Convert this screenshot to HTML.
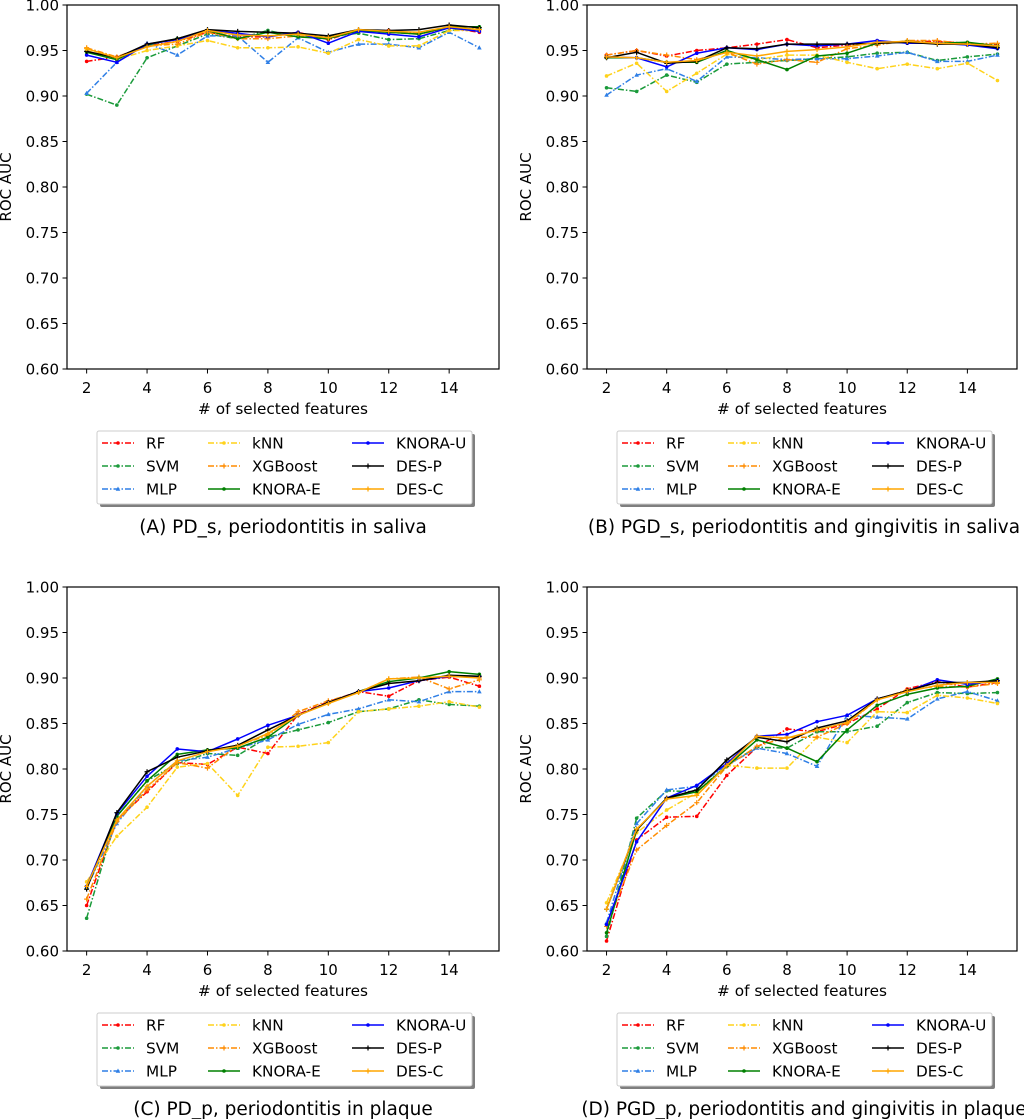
<!DOCTYPE html>
<html><head><meta charset="utf-8"><style>
html,body{margin:0;padding:0;background:#fff;}
svg{display:block;font-family:"DejaVu Sans","Liberation Sans",sans-serif;}
</style></head><body>
<svg id="chart" width="1024" height="1119" viewBox="0 0 1024 1119"></svg>
<script>
const features = [2,3,4,5,6,7,8,9,10,11,12,13,14,15];
const yTicks = [0.60,0.65,0.70,0.75,0.80,0.85,0.90,0.95,1.00];
const xTicks = [2,4,6,8,10,12,14];
const seriesNames = ["RF","SVM","MLP","kNN","XGBoost","KNORA-E","KNORA-U","DES-P","DES-C"];
const captions = ["(A) PD_s, periodontitis in saliva","(B) PGD_s, periodontitis and gingivitis in saliva","(C) PD_p, periodontitis in plaque","(D) PGD_p, periodontitis and gingivitis in plaque"];

const panelA_RF   = [0.938,0.943,0.955,0.960,0.970,0.965,0.965,0.970,0.962,0.972,0.972,0.968,0.975,0.970];
const panelA_SVM  = [0.902,0.890,0.942,0.955,0.968,0.963,0.972,0.965,0.965,0.969,0.962,0.963,0.972,0.975];
const panelA_MLP  = [0.903,0.937,0.958,0.945,0.966,0.966,0.937,0.964,0.948,0.957,0.957,0.953,0.970,0.953];
const panelA_kNN  = [0.950,0.940,0.950,0.955,0.961,0.953,0.953,0.954,0.947,0.962,0.955,0.955,0.972,0.972];
const panelA_XGB  = [0.953,0.943,0.955,0.957,0.970,0.963,0.963,0.966,0.963,0.972,0.970,0.968,0.975,0.973];
const panelA_KE   = [0.948,0.940,0.956,0.963,0.972,0.963,0.970,0.965,0.963,0.972,0.970,0.968,0.976,0.976];
const panelA_KU   = [0.945,0.937,0.957,0.962,0.972,0.969,0.965,0.970,0.958,0.971,0.968,0.965,0.975,0.971];
const panelA_DESP = [0.949,0.942,0.957,0.963,0.973,0.971,0.970,0.969,0.966,0.973,0.972,0.973,0.978,0.975];
const panelA_DESC = [0.952,0.942,0.954,0.960,0.972,0.967,0.966,0.968,0.964,0.973,0.971,0.970,0.976,0.973];

const panelB_RF   = [0.945,0.950,0.944,0.950,0.953,0.957,0.962,0.953,0.956,0.958,0.960,0.960,0.958,0.956];
const panelB_SVM  = [0.909,0.905,0.923,0.915,0.935,0.937,0.939,0.941,0.943,0.947,0.948,0.939,0.943,0.946];
const panelB_MLP  = [0.901,0.923,0.930,0.916,0.943,0.942,0.940,0.941,0.941,0.944,0.948,0.938,0.938,0.945];
const panelB_kNN  = [0.922,0.936,0.905,0.925,0.946,0.940,0.945,0.945,0.937,0.930,0.935,0.930,0.936,0.917];
const panelB_XGB  = [0.945,0.950,0.945,0.940,0.948,0.935,0.940,0.937,0.952,0.956,0.961,0.961,0.957,0.958];
const panelB_KE   = [0.942,0.942,0.937,0.937,0.950,0.940,0.929,0.944,0.947,0.958,0.960,0.958,0.959,0.955];
const panelB_KU   = [0.943,0.942,0.932,0.947,0.953,0.951,0.957,0.955,0.957,0.961,0.958,0.958,0.956,0.952];
const panelB_DESP = [0.942,0.948,0.936,0.938,0.953,0.952,0.957,0.957,0.957,0.958,0.959,0.957,0.957,0.953];
const panelB_DESC = [0.943,0.942,0.937,0.939,0.948,0.944,0.949,0.951,0.954,0.959,0.960,0.958,0.957,0.955];

const panelC_RF   = [0.650,0.744,0.775,0.807,0.805,0.824,0.817,0.860,0.874,0.885,0.880,0.897,0.901,0.891];
const panelC_SVM  = [0.636,0.748,0.787,0.806,0.817,0.815,0.835,0.843,0.851,0.863,0.866,0.876,0.871,0.869];
const panelC_MLP  = [0.669,0.740,0.781,0.809,0.813,0.823,0.832,0.849,0.860,0.866,0.876,0.874,0.885,0.885];
const panelC_kNN  = [0.676,0.726,0.758,0.802,0.806,0.771,0.824,0.825,0.829,0.863,0.866,0.869,0.874,0.868];
const panelC_XGB  = [0.657,0.742,0.777,0.807,0.801,0.826,0.837,0.863,0.875,0.884,0.899,0.901,0.888,0.898];
const panelC_KE   = [0.669,0.748,0.787,0.816,0.821,0.823,0.835,0.859,0.873,0.885,0.896,0.900,0.907,0.904];
const panelC_KU   = [0.671,0.751,0.792,0.822,0.819,0.833,0.848,0.859,0.873,0.885,0.889,0.897,0.902,0.901];
const panelC_DESP = [0.668,0.752,0.797,0.813,0.820,0.826,0.843,0.859,0.873,0.885,0.894,0.897,0.903,0.902];
const panelC_DESC = [0.671,0.744,0.781,0.809,0.819,0.825,0.839,0.859,0.872,0.884,0.899,0.900,0.902,0.900];

const panelD_RF   = [0.611,0.722,0.747,0.748,0.793,0.824,0.844,0.841,0.850,0.866,0.888,0.896,0.890,0.895];
const panelD_SVM  = [0.616,0.746,0.776,0.775,0.804,0.824,0.823,0.841,0.841,0.847,0.873,0.884,0.883,0.884];
const panelD_MLP  = [0.631,0.740,0.777,0.781,0.804,0.823,0.817,0.803,0.859,0.857,0.855,0.877,0.885,0.875];
const panelD_kNN  = [0.653,0.730,0.755,0.774,0.804,0.801,0.801,0.835,0.829,0.863,0.862,0.881,0.878,0.872];
const panelD_XGB  = [0.627,0.711,0.738,0.763,0.803,0.825,0.835,0.835,0.850,0.876,0.887,0.891,0.890,0.894];
const panelD_KE   = [0.620,0.733,0.768,0.775,0.803,0.832,0.823,0.808,0.843,0.870,0.882,0.889,0.891,0.899];
const panelD_KU   = [0.629,0.720,0.768,0.782,0.806,0.836,0.838,0.852,0.859,0.877,0.885,0.898,0.893,0.897];
const panelD_DESP = [0.646,0.733,0.768,0.777,0.810,0.835,0.830,0.845,0.853,0.877,0.886,0.895,0.895,0.897];
const panelD_DESC = [0.646,0.734,0.767,0.771,0.804,0.836,0.834,0.843,0.851,0.876,0.885,0.892,0.895,0.895];

const panelData = [
  [panelA_RF,panelA_SVM,panelA_MLP,panelA_kNN,panelA_XGB,panelA_KE,panelA_KU,panelA_DESP,panelA_DESC],
  [panelB_RF,panelB_SVM,panelB_MLP,panelB_kNN,panelB_XGB,panelB_KE,panelB_KU,panelB_DESP,panelB_DESC],
  [panelC_RF,panelC_SVM,panelC_MLP,panelC_kNN,panelC_XGB,panelC_KE,panelC_KU,panelC_DESP,panelC_DESC],
  [panelD_RF,panelD_SVM,panelD_MLP,panelD_kNN,panelD_XGB,panelD_KE,panelD_KU,panelD_DESP,panelD_DESC]
];

const styles = [
  {c:"#ff0000",dash:"6,2,1.5,2",m:"dot"},
  {c:"#1a9a3a",dash:"6,2,1.5,2",m:"dot"},
  {c:"#2f7fe6",dash:"6,2,1.5,2",m:"tri"},
  {c:"#ffd21a",dash:"6,2,1.5,2",m:"dot"},
  {c:"#ff8c00",dash:"6,2,1.5,2",m:"plus"},
  {c:"#008000",dash:"",m:"dot"},
  {c:"#0000ff",dash:"",m:"dot"},
  {c:"#000000",dash:"",m:"plus"},
  {c:"#ffa500",dash:"",m:"plus"}
];
const panels = [
  {l:67,r:499,t:5,b:369,key:"a"},
  {l:587,r:1017,t:5,b:369,key:"b"},
  {l:67,r:499,t:587,b:951,key:"c"},
  {l:587,r:1017,t:587,b:951,key:"d"}
];
const NS="http://www.w3.org/2000/svg";
const svg=document.getElementById('chart');
function mk(tag,attrs,parent,text){const e=document.createElementNS(NS,tag);for(const k in attrs)e.setAttribute(k,attrs[k]);if(text!==undefined)e.textContent=text;(parent||svg).appendChild(e);return e;}
function marker(g,s,x,y){
  let e;
  if(s.m==="dot"){e=mk('circle',{cx:x,cy:y,r:1.8,fill:s.c},g);}
  else if(s.m==="tri"){e=mk('polygon',{points:`${x},${y-2.5} ${x-2.3},${y+1.7} ${x+2.3},${y+1.7}`,fill:s.c},g);}
  else {e=mk('path',{d:`M${x-2.5},${y}H${x+2.5}M${x},${y-2.5}V${y+2.5}`,stroke:s.c,'stroke-width':1.2,fill:'none'},g);}
  
  
}
panels.forEach((p,pi)=>{
  const g=mk('g',{});
  
  
  const xmin=1.35,xmax=15.65;
  const X=v=>p.l+(v-xmin)/(xmax-xmin)*(p.r-p.l);
  const Y=v=>p.b-(v-0.6)/0.4*(p.b-p.t);
  yTicks.forEach(t=>{
    const y=Y(t);
    const tk=mk('line',{x1:p.l-4.5,x2:p.l,y1:y,y2:y,stroke:'#000','stroke-width':1},g);
    
    
    const tl=mk('text',{x:p.l-8,y:y+5.5,'text-anchor':'end','font-size':15,fill:'#000'},g,t.toFixed(2));
    
    
  });
  xTicks.forEach(t=>{
    const x=X(t);
    const tk=mk('line',{x1:x,x2:x,y1:p.b,y2:p.b+4.5,stroke:'#000','stroke-width':1},g);
    
    
    const tl=mk('text',{x:x,y:p.b+24,'text-anchor':'middle','font-size':15,fill:'#000'},g,String(t));
    
    
  });
  const xt=mk('text',{x:(p.l+p.r)/2,y:p.b+45,'text-anchor':'middle','font-size':15.3,fill:'#000'},g,'# of selected features');
  
  
  const yx=p.l-56, yc=(p.t+p.b)/2;
  const yt=mk('text',{x:yx,y:yc,'text-anchor':'middle','font-size':15,fill:'#000',transform:`rotate(-90 ${yx} ${yc})`},g,'ROC AUC');
  
  
  panelData[pi].forEach((vals,si)=>{
    const s=styles[si];
    const sg=mk('g',{},g);
    
    
    const pts=vals.map((v,i)=>X(features[i]).toFixed(1)+','+Y(v).toFixed(1)).join(' ');
    const a={points:pts,fill:'none',stroke:s.c,'stroke-width':1.5,'stroke-linejoin':'round'};
    if(s.dash)a['stroke-dasharray']=s.dash;
    const ln=mk('polyline',a,sg);
    
    
    vals.forEach((v,i)=>marker(sg,s,X(features[i]),Y(v)));
  });
  const fr=mk('rect',{x:p.l,y:p.t,width:p.r-p.l,height:p.b-p.t,fill:'none',stroke:'#000','stroke-width':1.2},g);
  
  
  const lx=p.l+30, ly=p.b+62;
  const lg=mk('g',{},g);
  
  
  mk('rect',{x:lx+3,y:ly+3,width:375,height:73,rx:2,fill:'#7f7f7f'},lg);
  mk('rect',{x:lx,y:ly,width:375,height:73,rx:2,fill:'#fff',stroke:'#ccc','stroke-width':1},lg);
  const colX=[5,111,255];
  seriesNames.forEach((n,si)=>{
    const s=styles[si];
    const col=Math.floor(si/3), row=si%3;
    const x0=lx+colX[col], y0=ly+12+row*23;
    const eg=mk('g',{},lg);
    
    
    const a={x1:x0,x2:x0+32,y1:y0,y2:y0,stroke:s.c,'stroke-width':1.5};
    if(s.dash)a['stroke-dasharray']=s.dash;
    mk('line',a,eg);
    marker(eg,s,x0+16,y0);
    mk('text',{x:x0+44,y:y0+5.5,'font-size':15.3,fill:'#000'},eg,n);
  });
  const cap=mk('text',{x:(p.l+p.r)/2+(pi%2?2:0),y:p.b+164,'text-anchor':'middle','font-size':18.5,fill:'#000'},g,captions[pi]);
  
  
});
</script>
</body></html>
